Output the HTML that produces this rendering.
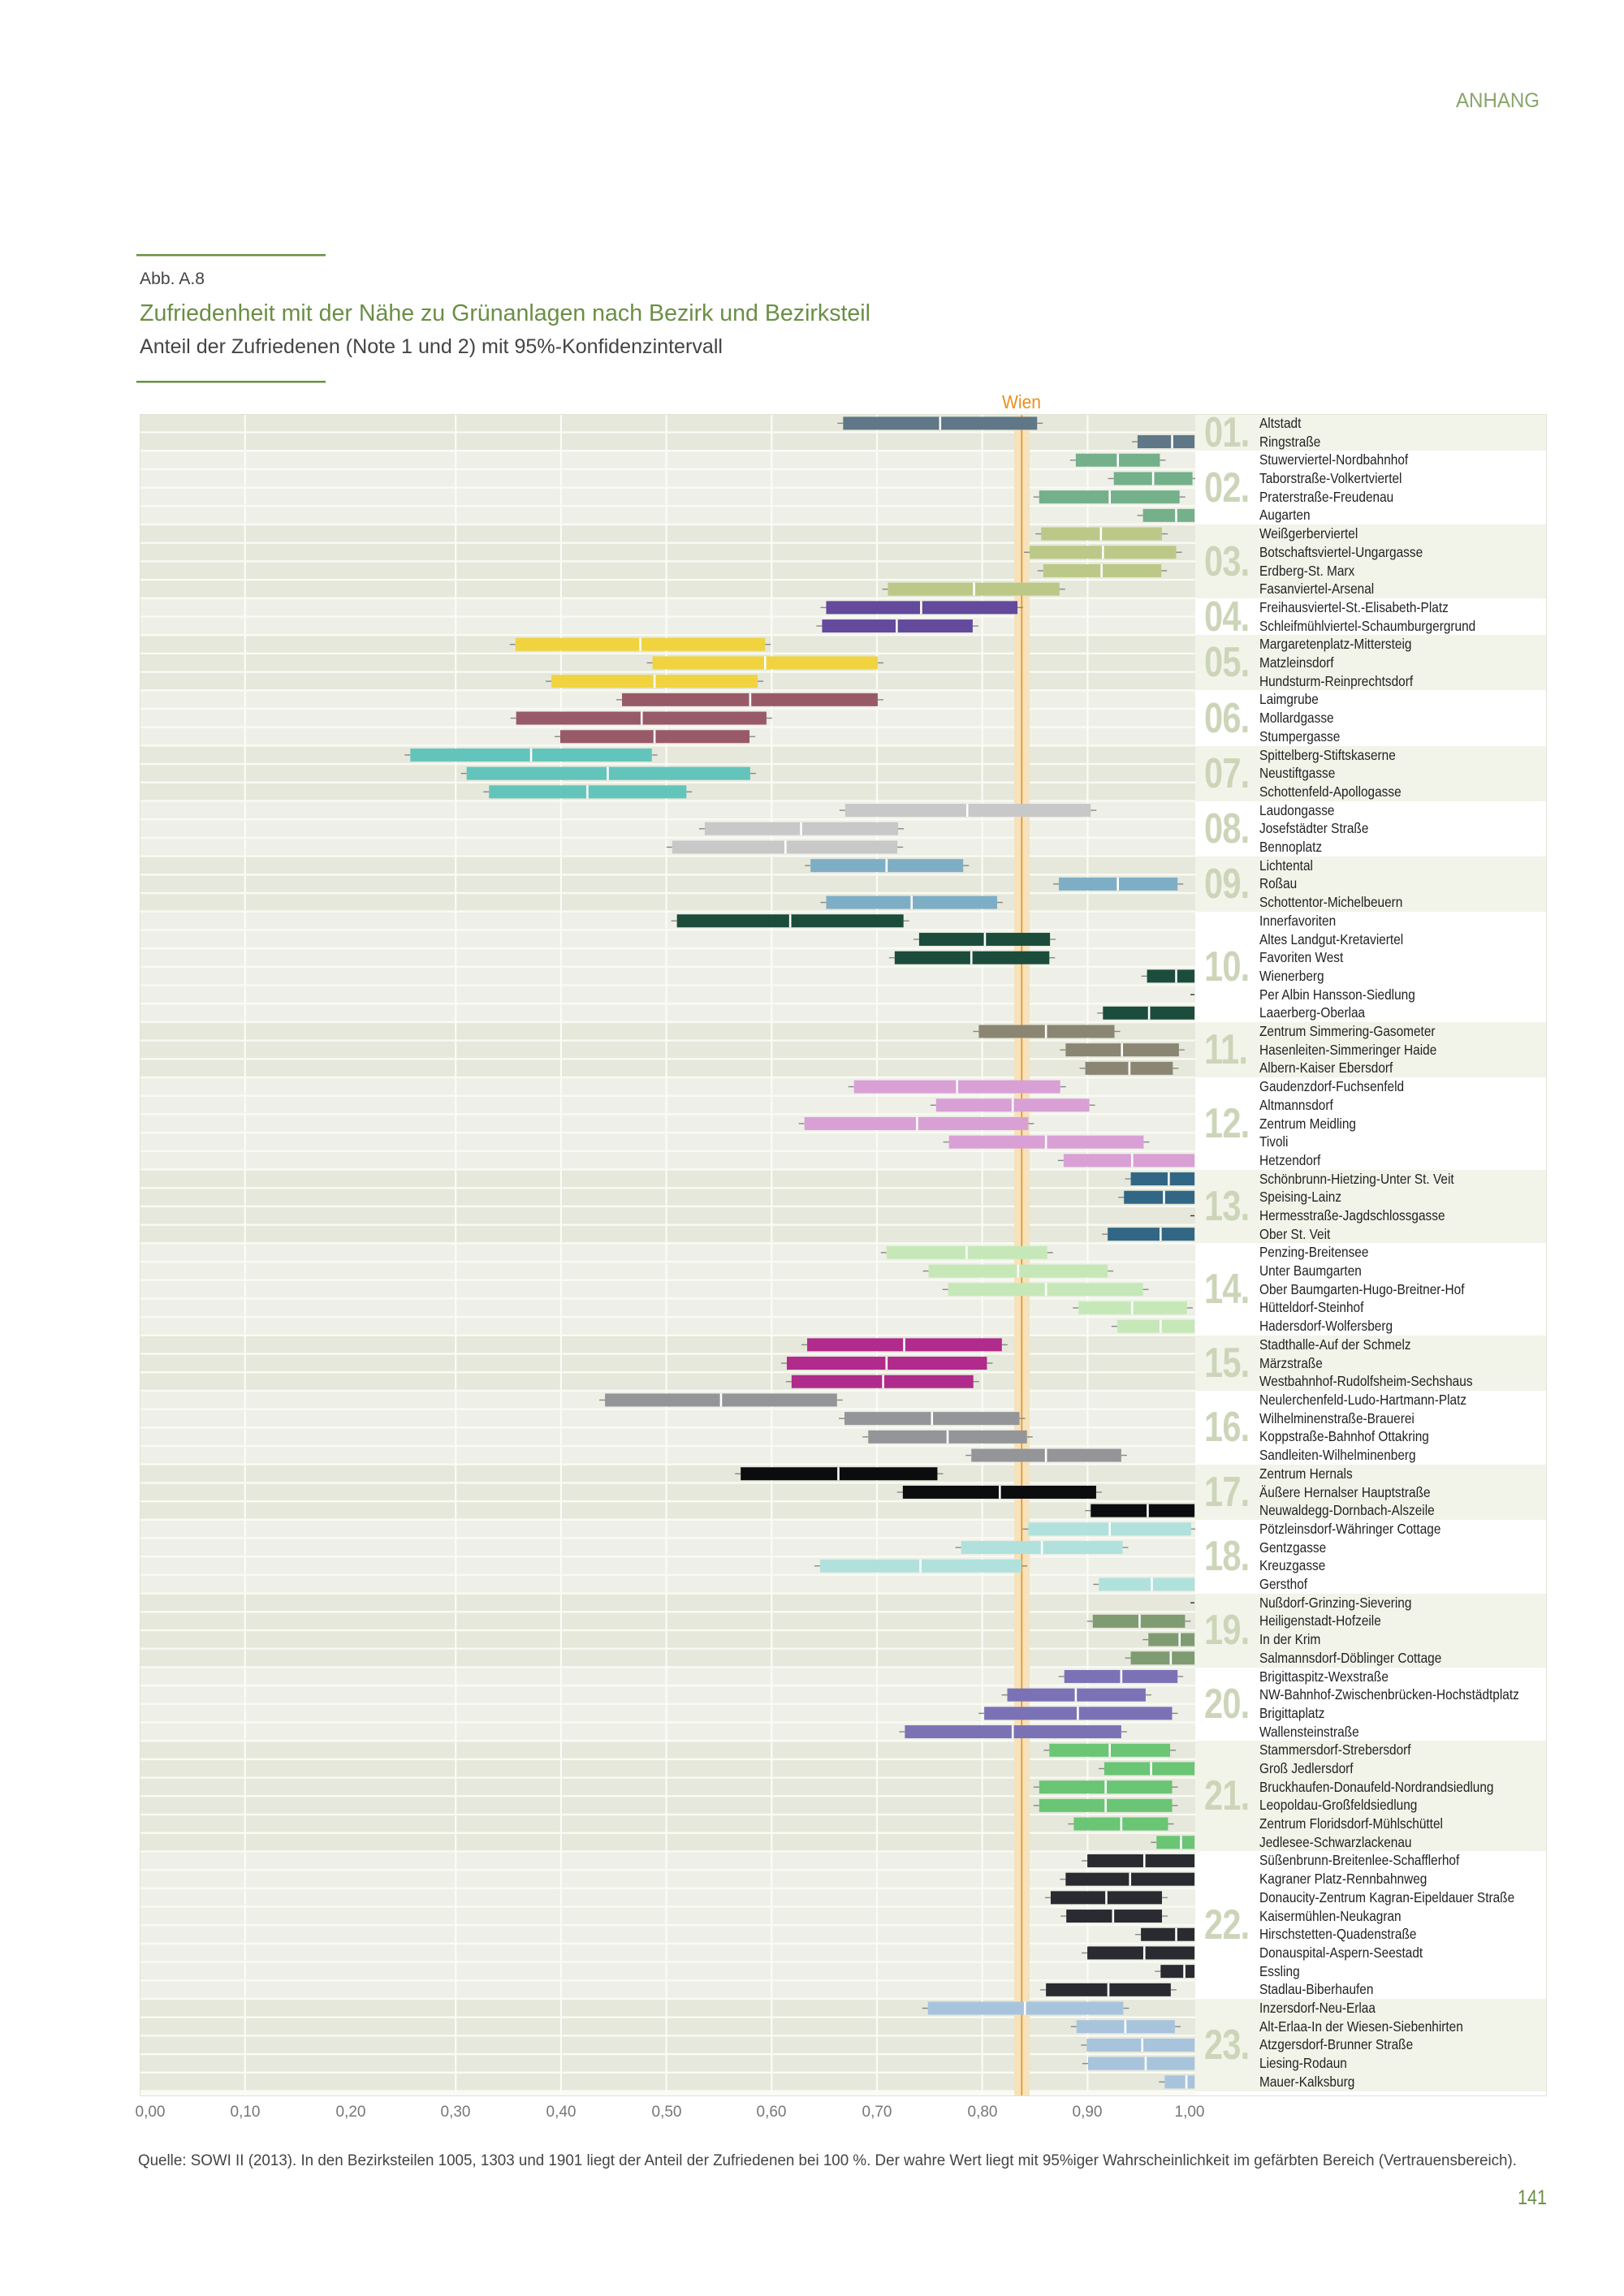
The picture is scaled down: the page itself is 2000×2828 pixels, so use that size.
<!DOCTYPE html>
<html><head><meta charset="utf-8">
<style>
html,body{margin:0;padding:0;background:#fff}
#pg{position:relative;width:2000px;height:2828px;overflow:hidden;font-family:"Liberation Sans",sans-serif}
#panel{position:absolute;left:1472px;top:510px;width:433px}
.g{position:relative;box-sizing:border-box}
.g.o{background:#f2f4ea}
.g.e{background:#ffffff}
.num{position:absolute;left:11px;top:50%;margin-top:-30px;height:60px;line-height:60px;font-weight:bold;font-size:52px;color:#cdd5b9;transform:scaleX(0.8);transform-origin:left center;letter-spacing:-1px}
.lb{position:absolute;left:79px;top:0}
.lb div{height:22.7px;line-height:22.7px;font-size:17.5px;color:#222;white-space:nowrap;transform:scaleX(0.88);transform-origin:left center}
</style></head><body>
<div id="pg">
<svg id="sv" width="2000" height="2828" style="position:absolute;left:0;top:0">
<text x="1896" y="132" text-anchor="end" font-size="25" fill="#8aa56b" font-family="Liberation Sans" textLength="103" lengthAdjust="spacingAndGlyphs">ANHANG</text>
<rect x="168" y="313" width="233" height="2.5" fill="#6a8f45"/>
<rect x="168" y="469" width="233" height="2.5" fill="#6a8f45"/>
<text x="172" y="350" font-size="21" fill="#444" textLength="80" lengthAdjust="spacingAndGlyphs">Abb. A.8</text>
<text x="172" y="395" font-size="29" fill="#6a8f45" textLength="900" lengthAdjust="spacingAndGlyphs">Zufriedenheit mit der Nähe zu Grünanlagen nach Bezirk und Bezirksteil</text>
<text x="172" y="435" font-size="25" fill="#444" textLength="718" lengthAdjust="spacingAndGlyphs">Anteil der Zufriedenen (Note 1 und 2) mit 95%-Konfidenzintervall</text>
<text x="1258" y="503" text-anchor="middle" font-size="23" fill="#e8901e" textLength="48" lengthAdjust="spacingAndGlyphs">Wien</text>
<g id="plot"></g>
<g font-size="19" fill="#777" text-anchor="middle">
<text x="185" y="2607">0,00</text><text x="302" y="2607">0,10</text><text x="432" y="2607">0,20</text><text x="561" y="2607">0,30</text><text x="691" y="2607">0,40</text><text x="821" y="2607">0,50</text><text x="950" y="2607">0,60</text><text x="1080" y="2607">0,70</text><text x="1210" y="2607">0,80</text><text x="1339" y="2607">0,90</text><text x="1465" y="2607">1,00</text>
</g>
<text x="170" y="2667" font-size="19" fill="#444" textLength="1698" lengthAdjust="spacingAndGlyphs">Quelle: SOWI II (2013). In den Bezirksteilen 1005, 1303 und 1901 liegt der Anteil der Zufriedenen bei 100 %. Der wahre Wert liegt mit 95%iger Wahrscheinlichkeit im gefärbten Bereich (Vertrauensbereich).</text>
<text x="1905" y="2715" text-anchor="end" font-size="25" fill="#6a8f45" textLength="36" lengthAdjust="spacingAndGlyphs">141</text>
</svg>
<div id="panel">
<div class="g o" style="height:45.4px"><div class="num">01.</div><div class="lb"><div>Altstadt</div><div>Ringstraße</div></div></div>
<div class="g e" style="height:90.8px"><div class="num">02.</div><div class="lb"><div>Stuwerviertel-Nordbahnhof</div><div>Taborstraße-Volkertviertel</div><div>Praterstraße-Freudenau</div><div>Augarten</div></div></div>
<div class="g o" style="height:90.8px"><div class="num">03.</div><div class="lb"><div>Weißgerberviertel</div><div>Botschaftsviertel-Ungargasse</div><div>Erdberg-St. Marx</div><div>Fasanviertel-Arsenal</div></div></div>
<div class="g e" style="height:45.4px"><div class="num">04.</div><div class="lb"><div>Freihausviertel-St.-Elisabeth-Platz</div><div>Schleifmühlviertel-Schaumburgergrund</div></div></div>
<div class="g o" style="height:68.1px"><div class="num">05.</div><div class="lb"><div>Margaretenplatz-Mittersteig</div><div>Matzleinsdorf</div><div>Hundsturm-Reinprechtsdorf</div></div></div>
<div class="g e" style="height:68.1px"><div class="num">06.</div><div class="lb"><div>Laimgrube</div><div>Mollardgasse</div><div>Stumpergasse</div></div></div>
<div class="g o" style="height:68.1px"><div class="num">07.</div><div class="lb"><div>Spittelberg-Stiftskaserne</div><div>Neustiftgasse</div><div>Schottenfeld-Apollogasse</div></div></div>
<div class="g e" style="height:68.1px"><div class="num">08.</div><div class="lb"><div>Laudongasse</div><div>Josefstädter Straße</div><div>Bennoplatz</div></div></div>
<div class="g o" style="height:68.1px"><div class="num">09.</div><div class="lb"><div>Lichtental</div><div>Roßau</div><div>Schottentor-Michelbeuern</div></div></div>
<div class="g e" style="height:136.2px"><div class="num">10.</div><div class="lb"><div>Innerfavoriten</div><div>Altes Landgut-Kretaviertel</div><div>Favoriten West</div><div>Wienerberg</div><div>Per Albin Hansson-Siedlung</div><div>Laaerberg-Oberlaa</div></div></div>
<div class="g o" style="height:68.1px"><div class="num">11.</div><div class="lb"><div>Zentrum Simmering-Gasometer</div><div>Hasenleiten-Simmeringer Haide</div><div>Albern-Kaiser Ebersdorf</div></div></div>
<div class="g e" style="height:113.5px"><div class="num">12.</div><div class="lb"><div>Gaudenzdorf-Fuchsenfeld</div><div>Altmannsdorf</div><div>Zentrum Meidling</div><div>Tivoli</div><div>Hetzendorf</div></div></div>
<div class="g o" style="height:90.8px"><div class="num">13.</div><div class="lb"><div>Schönbrunn-Hietzing-Unter St. Veit</div><div>Speising-Lainz</div><div>Hermesstraße-Jagdschlossgasse</div><div>Ober St. Veit</div></div></div>
<div class="g e" style="height:113.5px"><div class="num">14.</div><div class="lb"><div>Penzing-Breitensee</div><div>Unter Baumgarten</div><div>Ober Baumgarten-Hugo-Breitner-Hof</div><div>Hütteldorf-Steinhof</div><div>Hadersdorf-Wolfersberg</div></div></div>
<div class="g o" style="height:68.1px"><div class="num">15.</div><div class="lb"><div>Stadthalle-Auf der Schmelz</div><div>Märzstraße</div><div>Westbahnhof-Rudolfsheim-Sechshaus</div></div></div>
<div class="g e" style="height:90.8px"><div class="num">16.</div><div class="lb"><div>Neulerchenfeld-Ludo-Hartmann-Platz</div><div>Wilhelminenstraße-Brauerei</div><div>Koppstraße-Bahnhof Ottakring</div><div>Sandleiten-Wilhelminenberg</div></div></div>
<div class="g o" style="height:68.1px"><div class="num">17.</div><div class="lb"><div>Zentrum Hernals</div><div>Äußere Hernalser Hauptstraße</div><div>Neuwaldegg-Dornbach-Alszeile</div></div></div>
<div class="g e" style="height:90.8px"><div class="num">18.</div><div class="lb"><div>Pötzleinsdorf-Währinger Cottage</div><div>Gentzgasse</div><div>Kreuzgasse</div><div>Gersthof</div></div></div>
<div class="g o" style="height:90.8px"><div class="num">19.</div><div class="lb"><div>Nußdorf-Grinzing-Sievering</div><div>Heiligenstadt-Hofzeile</div><div>In der Krim</div><div>Salmannsdorf-Döblinger Cottage</div></div></div>
<div class="g e" style="height:90.8px"><div class="num">20.</div><div class="lb"><div>Brigittaspitz-Wexstraße</div><div>NW-Bahnhof-Zwischenbrücken-Hochstädtplatz</div><div>Brigittaplatz</div><div>Wallensteinstraße</div></div></div>
<div class="g o" style="height:136.2px"><div class="num">21.</div><div class="lb"><div>Stammersdorf-Strebersdorf</div><div>Groß Jedlersdorf</div><div>Bruckhaufen-Donaufeld-Nordrandsiedlung</div><div>Leopoldau-Großfeldsiedlung</div><div>Zentrum Floridsdorf-Mühlschüttel</div><div>Jedlesee-Schwarzlackenau</div></div></div>
<div class="g e" style="height:181.6px"><div class="num">22.</div><div class="lb"><div>Süßenbrunn-Breitenlee-Schafflerhof</div><div>Kagraner Platz-Rennbahnweg</div><div>Donaucity-Zentrum Kagran-Eipeldauer Straße</div><div>Kaisermühlen-Neukagran</div><div>Hirschstetten-Quadenstraße</div><div>Donauspital-Aspern-Seestadt</div><div>Essling</div><div>Stadlau-Biberhaufen</div></div></div>
<div class="g o" style="height:113.5px"><div class="num">23.</div><div class="lb"><div>Inzersdorf-Neu-Erlaa</div><div>Alt-Erlaa-In der Wiesen-Siebenhirten</div><div>Atzgersdorf-Brunner Straße</div><div>Liesing-Rodaun</div><div>Mauer-Kalksburg</div></div></div>
</div>
<div style="position:absolute;left:172px;top:510px;width:1733px;height:2072px;box-sizing:border-box;border:1px solid #e0e3d5;pointer-events:none"></div>
</div>
<script>
(function(){
var groups=[2,4,4,2,3,3,3,3,3,6,3,5,4,5,3,4,3,4,4,4,6,8,5];
var cols=["#5f7787","#74b08a","#bcc887","#634a9c","#f0d33f","#995a68","#63c4bb","#c8c8c8","#7eaec6","#1c4c3c","#8a8673","#d9a0d6","#316784","#c6e8b8","#b02b8c","#949598","#0b0c0e","#b1e1dc","#7f9b72","#7b72b6","#6ac574","#2a2b30","#a8c4dc"];
var d=[[1037,1180,1323],[1471,1522,1555],[1380,1442,1504],[1436,1494,1552],[1326,1430,1533],[1479,1528,1555],[1329,1417,1507],[1312,1420,1528],[1332,1418,1506],[1103,1230,1356],[1012,1152,1294],[1006,1116,1228],[554,738,922],[756,922,1088],[607,759,911],[711,900,1088],[555,740,924],[620,759,899],[399,577,755],[482,690,900],[515,660,806],[1040,1220,1402],[833,975,1118],[785,952,1117],[989,1101,1214],[1355,1442,1530],[1012,1138,1264],[792,959,1126],[1149,1246,1342],[1113,1226,1341],[1485,1528,1555],null,[1420,1488,1555],[1237,1336,1437],[1365,1448,1532],[1394,1459,1523],[1053,1205,1357],[1174,1287,1400],[980,1146,1310],[1193,1336,1480],[1362,1463,1555],[1461,1517,1555],[1451,1510,1555],null,[1427,1505,1555],[1101,1219,1338],[1163,1295,1427],[1192,1336,1479],[1384,1463,1544],[1441,1505,1555],[984,1127,1271],[954,1101,1249],[961,1096,1229],[686,857,1028],[1039,1168,1297],[1074,1191,1308],[1226,1336,1447],[886,1030,1176],[1125,1268,1410],[1402,1486,1555],[1310,1430,1550],[1211,1330,1449],[1003,1151,1300],[1414,1492,1555],null,[1405,1474,1541],[1487,1533,1555],[1461,1520,1555],[1363,1447,1530],[1279,1380,1483],[1245,1383,1522],[1128,1287,1447],[1341,1430,1519],[1422,1491,1555],[1326,1424,1522],[1326,1424,1522],[1377,1447,1516],[1499,1535,1555],[1397,1481,1555],[1365,1460,1555],[1343,1425,1507],[1366,1435,1507],[1476,1528,1555],[1397,1481,1555],[1505,1540,1555],[1336,1428,1520],[1162,1305,1450],[1381,1453,1526],[1396,1478,1555],[1398,1483,1555],[1511,1543,1555]];
var X=function(z){return 172+z/1.197;};
var P=22.7,T=510,s='';
var gi=[];for(var g=0;g<groups.length;g++)for(var k=0;k<groups[g];k++){gi.push(g);}
s+='<rect x="172" y="510" width="1300" height="2072" fill="#fafaf5"/>';
for(var i=0;i<91;i++){var y=T+i*P;s+='<rect x="172" y="'+(y+1)+'" width="1300" height="'+(P-2.4)+'" fill="'+(gi[i]%2==0?'#e5e8da':'#eef0e7')+'"/>';}
[0.1,0.3,0.4,0.5,0.6,0.7,0.8,0.9].forEach(function(v){s+='<rect x="'+(172+1297*v-1)+'" y="510" width="2.2" height="2072" fill="#fbfbf7"/>';});
s+='<rect x="1249" y="510" width="19" height="2072" fill="#f6e2bb"/>';
s+='<rect x="1257.5" y="510" width="1.6" height="2072" fill="#e8901e"/>';
for(var i=0;i<91;i++){var c=T+i*P+P/2,col=cols[gi[i]],r=d[i];
 if(!r){s+='<rect x="1466" y="'+(c-0.7)+'" width="5" height="1.4" fill="#333"/>';continue;}
 var a=X(r[0]),m=X(r[1]),b=X(r[2]);
 s+='<rect x="'+(a-7)+'" y="'+(c-0.7)+'" width="7" height="1.4" fill="#888"/>';
 if(r[2]<1553)s+='<rect x="'+b+'" y="'+(c-0.7)+'" width="7" height="1.4" fill="#888"/>';
 s+='<rect x="'+a+'" y="'+(c-8)+'" width="'+(b-a)+'" height="16" fill="'+col+'"/>';
 s+='<rect x="'+(m-1.3)+'" y="'+(c-8)+'" width="2.6" height="16" fill="#fff"/>';
}
document.getElementById('plot').innerHTML=s;
})();
</script>
</body></html>
